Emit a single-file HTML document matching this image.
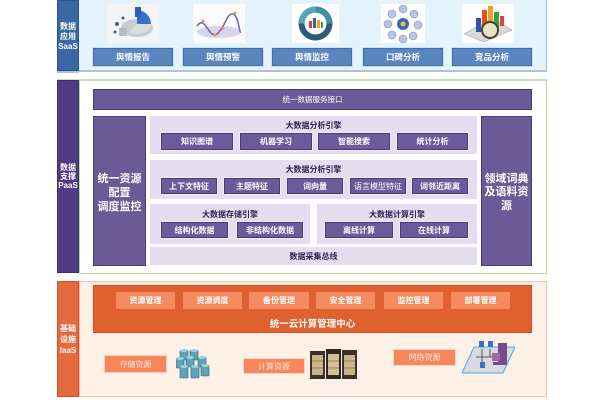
<!DOCTYPE html>
<html><head><meta charset="utf-8">
<style>
*{margin:0;padding:0;box-sizing:border-box}
body{width:600px;height:403px;background:#fff;position:relative;overflow:hidden;font-family:"Liberation Sans","Noto Sans CJK SC",sans-serif}
.a{position:absolute}
.c{position:absolute;display:flex;align-items:center;justify-content:center;text-align:center;color:#fff;font-weight:bold;white-space:nowrap}
.sb{background:#5a86c0;border:1px solid #3f6da8;box-shadow:0 0 0 1px #cfe0f1;font-size:8.5px}
.pb{background:#6b5b9a;border:1px solid #4a3c7b;box-shadow:0 0 0 1px #f1edf7;font-size:8px}
.ob{background:#f58b5f;font-size:8px}
.lp{background:#e4ddf0}
.t{position:absolute;font-size:8px;font-weight:bold;color:#2e2250;text-align:center;white-space:nowrap}
.rb{background:#f7875a;border:1px solid #fbd3c0;font-size:8px;font-weight:normal;font-family:"Liberation Serif","Noto Serif CJK SC",serif}
</style></head><body>

<!-- SaaS -->
<div class="a" style="left:79px;top:0;width:468px;height:72px;background:#e3f2fb;border-right:1px solid #9dbcd9;border-bottom:2px solid #aec3d8"></div>
<div class="a" style="left:57px;top:71px;width:22px;height:2px;background:#aec3d8"></div>
<div class="c" style="left:57px;top:0;width:22px;height:71px;background:#3b68a5;border:1px solid #2d5690;flex-direction:column;font-size:8px;line-height:10px;padding-top:2px">数据<br>应用<br>SaaS</div>

<!-- SaaS images -->
<svg class="a" style="left:107px;top:4px" width="52" height="39" viewBox="0 0 52 39">
<rect width="52" height="39" fill="#f3f4f6"/>
<ellipse cx="30" cy="24" rx="16" ry="9" fill="#c9ccd2"/>
<path d="M30 20 L30 6 A14 14 0 0 1 44 20 Z" fill="#3a72c4"/>
<path d="M30 20 L44 20 A14 9 0 0 1 22 28 Z" fill="#d9dde3"/>
<rect x="28" y="3" width="6" height="10" fill="#2e62b0"/>
<circle cx="10" cy="20" r="2" fill="#3d5aa0"/><circle cx="16" cy="14" r="1.5" fill="#3d5aa0"/><circle cx="8" cy="28" r="1.5" fill="#3d5aa0"/>
<rect x="12" y="24" width="8" height="8" fill="#b6bac2"/>
</svg>
<svg class="a" style="left:193px;top:4px" width="52" height="39" viewBox="0 0 52 39">
<rect width="52" height="39" fill="#fbfbfd"/>
<ellipse cx="26" cy="28" rx="22" ry="6" fill="#d9d4ee"/>
<path d="M4 22 C12 10,16 36,24 30 S34 8,40 10 S46 30,48 28" stroke="#6f62c8" stroke-width="1.5" fill="none"/>
<circle cx="10" cy="17" r="1.5" fill="#e8a020"/><circle cx="22" cy="31" r="1.5" fill="#e8a020"/><circle cx="30" cy="24" r="1.5" fill="#e8a020"/><circle cx="42" cy="9" r="1.5" fill="#e8a020"/>
</svg>
<svg class="a" style="left:292px;top:4px" width="47" height="39" viewBox="0 0 47 39">
<rect width="47" height="39" fill="#fff"/>
<circle cx="23.5" cy="19.5" r="17" fill="#2b5d76"/>
<circle cx="23.5" cy="19.5" r="11" fill="#fff"/>
<path d="M23.5 2.5 A17 17 0 0 1 40.5 19.5 L34.5 19.5 A11 11 0 0 0 23.5 8.5Z" fill="#3f8fa8"/>
<path d="M6.5 19.5 A17 17 0 0 1 23.5 2.5 L23.5 8.5 A11 11 0 0 0 12.5 19.5Z" fill="#5aa5b5"/>
<rect x="17" y="17" width="3" height="7" fill="#e04030"/><rect x="21" y="14" width="3" height="10" fill="#3060c0"/><rect x="25" y="16" width="3" height="8" fill="#f0a020"/><rect x="29" y="18" width="2" height="6" fill="#40a040"/>
</svg>
<svg class="a" style="left:381px;top:4px" width="44" height="39" viewBox="0 0 44 39">
<rect width="44" height="39" fill="#fff"/>
<g fill="#b8c4e0" stroke="#7d8fc0" stroke-width="0.6">
<circle cx="22" cy="5" r="4"/><circle cx="33" cy="10" r="4"/><circle cx="37" cy="21" r="4"/><circle cx="32" cy="32" r="4"/><circle cx="22" cy="35" r="4"/><circle cx="11" cy="31" r="4"/><circle cx="7" cy="20" r="4"/><circle cx="11" cy="10" r="4"/></g>
<circle cx="22" cy="20" r="6" fill="#3c68b0"/><circle cx="22" cy="20" r="2.5" fill="#f0c040"/>
</svg>
<svg class="a" style="left:462px;top:4px" width="52" height="39" viewBox="0 0 52 39">
<rect width="52" height="39" fill="#fff"/>
<path d="M2 30 L30 14 L50 26 L22 38Z" fill="#d8d8d8" stroke="#999" stroke-width="0.5"/>
<rect x="14" y="14" width="5" height="14" fill="#3050b0"/><rect x="20" y="6" width="5" height="20" fill="#e05020"/><rect x="26" y="2" width="5" height="22" fill="#f0a020"/><rect x="32" y="8" width="5" height="16" fill="#30a040"/><rect x="38" y="12" width="4" height="10" fill="#e04040"/>
<circle cx="28" cy="26" r="8" fill="#e8e2c8" stroke="#4a4030" stroke-width="2"/>
</svg>

<div class="c sb" style="left:93px;top:48px;width:80px;height:18px">舆情报告</div>
<div class="c sb" style="left:183px;top:48px;width:80px;height:18px">舆情预警</div>
<div class="c sb" style="left:272px;top:48px;width:80px;height:18px">舆情监控</div>
<div class="c sb" style="left:363px;top:48px;width:80px;height:18px">口碑分析</div>
<div class="c sb" style="left:452px;top:48px;width:80px;height:18px">竞品分析</div>

<!-- PaaS -->
<div class="a" style="left:57px;top:79px;width:490px;height:2px;background:#c3e3ae"></div>
<div class="a" style="left:79px;top:79px;width:468px;height:195px;background:#fff;border:1px solid #b5dd9b;border-top:2px solid #c3e3ae"></div>
<div class="c" style="left:57px;top:80px;width:22px;height:193px;background:#4f3c80;border:1px solid #3f2f6e;flex-direction:column;font-size:8px;line-height:9px">数据<br>支撑<br>PaaS</div>

<div class="c" style="left:93px;top:89px;width:439px;height:21px;background:#6a5a96;border:1px solid #4a3a7a;font-weight:normal;font-size:7.5px">统一数据服务接口</div>
<div class="c" style="left:93px;top:116px;width:53px;height:150px;background:#6a5a96;border:1px solid #4a3a7a;font-size:11px;line-height:14px;flex-direction:column;padding-top:4px">统一资源<br>配置<br>调度监控</div>
<div class="c" style="left:481px;top:116px;width:51px;height:150px;background:#6a5a96;border:1px solid #4a3a7a;font-size:11px;line-height:13.5px;flex-direction:column;padding-top:4px">领域词典<br>及语料资<br>源</div>

<div class="a lp" style="left:150px;top:116px;width:327px;height:38px"></div>
<div class="t" style="left:150px;top:120px;width:327px">大数据分析引擎</div>
<div class="c pb" style="left:161px;top:133px;width:72px;height:17px">知识图谱</div>
<div class="c pb" style="left:240px;top:133px;width:72px;height:17px">机器学习</div>
<div class="c pb" style="left:318px;top:133px;width:72px;height:17px">智能搜索</div>
<div class="c pb" style="left:397px;top:133px;width:71px;height:17px">统计分析</div>

<div class="a lp" style="left:150px;top:160px;width:327px;height:39px"></div>
<div class="t" style="left:150px;top:164px;width:327px">大数据分析引擎</div>
<div class="c pb" style="left:161px;top:178px;width:56px;height:16px">上下文特征</div>
<div class="c pb" style="left:224px;top:178px;width:56px;height:16px">主题特征</div>
<div class="c pb" style="left:287px;top:178px;width:56px;height:16px">词向量</div>
<div class="c pb" style="left:350px;top:178px;width:56px;height:16px;font-weight:normal">语言模型特征</div>
<div class="c pb" style="left:412px;top:178px;width:56px;height:16px">词邻近距离</div>

<div class="a lp" style="left:150px;top:204px;width:160px;height:40px"></div>
<div class="t" style="left:150px;top:209px;width:160px">大数据存储引擎</div>
<div class="c pb" style="left:161px;top:222px;width:67px;height:16px">结构化数据</div>
<div class="c pb" style="left:237px;top:222px;width:66px;height:16px">非结构化数据</div>

<div class="a lp" style="left:317px;top:204px;width:160px;height:40px"></div>
<div class="t" style="left:317px;top:209px;width:160px">大数据计算引擎</div>
<div class="c pb" style="left:325px;top:222px;width:68px;height:16px">离线计算</div>
<div class="c pb" style="left:400px;top:222px;width:68px;height:16px">在线计算</div>

<div class="a lp" style="left:150px;top:247px;width:327px;height:18px"></div>
<div class="t" style="left:150px;top:251px;width:327px">数据采集总线</div>

<!-- IaaS -->
<div class="a" style="left:79px;top:281px;width:468px;height:116px;background:#fdf0e7;border:1px solid #f8bfa5"></div>
<div class="c" style="left:57px;top:281px;width:22px;height:116px;background:#e4693c;border:1px solid #d4512a;flex-direction:column;font-size:8px;line-height:11px">基础<br>设施<br>IaaS</div>

<div class="a" style="left:93px;top:285px;width:439px;height:48px;background:#e0612f;border:1px solid #d24f22"></div>
<div class="c ob" style="left:116px;top:292px;width:59px;height:17px">资源管理</div>
<div class="c ob" style="left:183px;top:292px;width:59px;height:17px">资源调度</div>
<div class="c ob" style="left:249px;top:292px;width:60px;height:17px">备份管理</div>
<div class="c ob" style="left:316px;top:292px;width:59px;height:17px">安全管理</div>
<div class="c ob" style="left:384px;top:292px;width:59px;height:17px">监控管理</div>
<div class="c ob" style="left:451px;top:292px;width:59px;height:17px">部署管理</div>
<div class="c" style="left:93px;top:315px;width:439px;height:16px;font-size:9.5px">统一云计算管理中心</div>

<div class="c rb" style="left:104px;top:355px;width:63px;height:18px">存储资源</div>
<div class="c rb" style="left:243px;top:358px;width:62px;height:16px">计算资源</div>
<div class="c rb" style="left:393px;top:349px;width:63px;height:17px">网络资源</div>

<svg class="a" style="left:176px;top:348px" width="34" height="32" viewBox="0 0 34 32">
<g fill="#5fa3b8" stroke="#2f5f70" stroke-width="0.6">
<rect x="4" y="2" width="8" height="10" rx="1"/><rect x="14" y="2" width="8" height="10" rx="1"/>
<rect x="0" y="10" width="8" height="10" rx="1"/><rect x="10" y="9" width="8" height="10" rx="1"/><rect x="22" y="9" width="8" height="10" rx="1"/>
<rect x="4" y="18" width="8" height="12" rx="1"/><rect x="15" y="18" width="8" height="12" rx="1"/><rect x="25" y="17" width="8" height="11" rx="1"/></g>
<g fill="#9fd0de"><ellipse cx="8" cy="2.5" rx="4" ry="1.5"/><ellipse cx="18" cy="2.5" rx="4" ry="1.5"/><ellipse cx="4" cy="10.5" rx="4" ry="1.5"/><ellipse cx="14" cy="9.5" rx="4" ry="1.5"/><ellipse cx="26" cy="9.5" rx="4" ry="1.5"/><ellipse cx="8" cy="18.5" rx="4" ry="1.5"/><ellipse cx="19" cy="18.5" rx="4" ry="1.5"/><ellipse cx="29" cy="17.5" rx="4" ry="1.5"/></g>
</svg>
<svg class="a" style="left:310px;top:349px" width="47" height="31" viewBox="0 0 47 31">
<rect x="0" y="2" width="15" height="28" fill="#3a3228"/><rect x="16" y="0" width="15" height="30" fill="#2e2820"/><rect x="32" y="1" width="15" height="29" fill="#3a3228"/>
<rect x="2" y="6" width="11" height="20" fill="#c9b48a"/><rect x="18" y="5" width="11" height="21" fill="#d4c096"/><rect x="34" y="6" width="11" height="20" fill="#c9b48a"/>
<g stroke="#6a5a40" stroke-width="0.6"><line x1="2" y1="12" x2="13" y2="12"/><line x1="18" y1="12" x2="29" y2="12"/><line x1="34" y1="12" x2="45" y2="12"/><line x1="2" y1="19" x2="13" y2="19"/><line x1="18" y1="19" x2="29" y2="19"/><line x1="34" y1="19" x2="45" y2="19"/></g>
</svg>
<svg class="a" style="left:462px;top:339px" width="53" height="35" viewBox="0 0 53 35">
<path d="M12 8 L53 8 L41 34 L0 34Z" fill="#d9d9de" stroke="#38b8e0" stroke-width="1"/>
<line x1="14" y1="18" x2="36" y2="18" stroke="#333" stroke-width="0.8"/>
<line x1="20" y1="10" x2="20" y2="25" stroke="#333" stroke-width="0.8"/><line x1="28" y1="10" x2="28" y2="18" stroke="#333" stroke-width="0.8"/>
<rect x="17" y="2" width="5" height="6" fill="#3a70c8"/><rect x="26" y="2" width="5" height="6" fill="#3a70c8"/><rect x="18" y="23" width="5" height="6" fill="#3a70c8"/>
<rect x="36" y="4" width="9" height="22" fill="#7b4a88"/><rect x="30" y="14" width="8" height="8" fill="#9a6aa6"/><rect x="31" y="23" width="6" height="3" fill="#7b4a88"/>
</svg>

</body></html>
